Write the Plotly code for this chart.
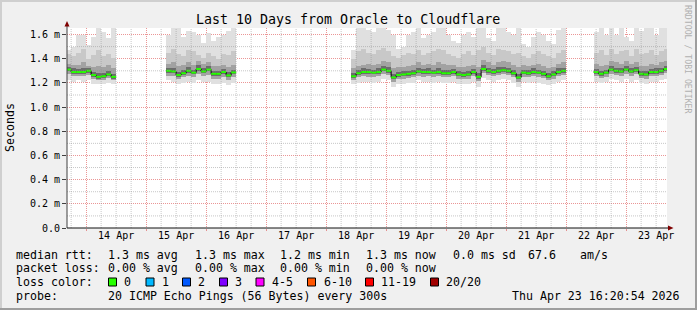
import plotly.graph_objects as go
import pandas as pd

# ---------------- data ----------------
seg_starts = ["2026-04-13 16:00", "2026-04-15 08:00", "2026-04-18 10:00", "2026-04-22 11:00"]
seg_counts = [10, 14, 43, 15]
bin_hours = 2

rtt_median = [
    1.31, 1.29, 1.29, 1.29, 1.30, 1.265, 1.25, 1.255, 1.27, 1.25,
    1.30, 1.295, 1.265, 1.28, 1.30, 1.285, 1.315, 1.295, 1.31, 1.275, 1.275, 1.29, 1.262, 1.287,
    1.255, 1.28, 1.29, 1.29, 1.285, 1.29, 1.31, 1.30, 1.245, 1.265, 1.27, 1.275, 1.28, 1.295, 1.29,
    1.29, 1.285, 1.29, 1.28, 1.28, 1.29, 1.27, 1.265, 1.27, 1.29, 1.25, 1.315, 1.30, 1.29, 1.30,
    1.305, 1.30, 1.28, 1.245, 1.285, 1.28, 1.29, 1.285, 1.275, 1.255, 1.27, 1.29, 1.30,
    1.29, 1.275, 1.285, 1.31, 1.30, 1.295, 1.31, 1.295, 1.305, 1.275, 1.27, 1.29, 1.29, 1.30, 1.315,
]
smoke_max = [
    1.47, 1.50, 1.60, 1.60, 1.51, 1.58, 1.66, 1.62, 1.57, 1.66,
    1.60, 1.66, 1.66, 1.58, 1.63, 1.62, 1.60, 1.53, 1.61, 1.55, 1.58, 1.60, 1.63, 1.66,
    1.47, 1.66, 1.66, 1.64, 1.62, 1.66, 1.66, 1.64, 1.60, 1.48, 1.50, 1.60, 1.62, 1.66, 1.57,
    1.60, 1.62, 1.66, 1.66, 1.60, 1.55, 1.53, 1.60, 1.62, 1.58, 1.66, 1.66, 1.57, 1.55, 1.66,
    1.66, 1.62, 1.60, 1.66, 1.52, 1.50, 1.58, 1.62, 1.60, 1.55, 1.52, 1.64, 1.66,
    1.62, 1.66, 1.60, 1.66, 1.60, 1.66, 1.58, 1.55, 1.66, 1.63, 1.66, 1.66, 1.60, 1.66, 1.66,
]
smoke_p90 = [
    1.44, 1.42, 1.45, 1.48, 1.40, 1.43, 1.47, 1.42, 1.44, 1.41,
    1.45, 1.48, 1.44, 1.42, 1.47, 1.46, 1.43, 1.41, 1.45, 1.42, 1.40, 1.44, 1.43, 1.46,
    1.40, 1.46, 1.48, 1.45, 1.44, 1.47, 1.49, 1.46, 1.42, 1.41, 1.43, 1.45, 1.44, 1.47, 1.43,
    1.45, 1.46, 1.48, 1.47, 1.44, 1.42, 1.41, 1.44, 1.46, 1.43, 1.47, 1.50, 1.45, 1.43, 1.48,
    1.47, 1.46, 1.44, 1.45, 1.42, 1.41, 1.44, 1.46, 1.44, 1.42, 1.41, 1.45, 1.47,
    1.45, 1.47, 1.43, 1.48, 1.44, 1.46, 1.47, 1.42, 1.48, 1.44, 1.45, 1.47, 1.43, 1.46, 1.48,
]
smoke_p75 = [
    1.36, 1.35, 1.35, 1.37, 1.34, 1.33, 1.34, 1.33, 1.35, 1.32,
    1.36, 1.37, 1.34, 1.35, 1.37, 1.35, 1.38, 1.36, 1.37, 1.34, 1.34, 1.35, 1.33, 1.35,
    1.32, 1.34, 1.35, 1.36, 1.35, 1.36, 1.38, 1.37, 1.32, 1.33, 1.33, 1.34, 1.35, 1.37, 1.35,
    1.36, 1.35, 1.37, 1.36, 1.35, 1.35, 1.33, 1.33, 1.34, 1.35, 1.33, 1.39, 1.37, 1.35, 1.37,
    1.38, 1.37, 1.35, 1.33, 1.35, 1.34, 1.35, 1.36, 1.34, 1.32, 1.33, 1.36, 1.37,
    1.36, 1.34, 1.35, 1.38, 1.37, 1.36, 1.38, 1.36, 1.37, 1.34, 1.34, 1.36, 1.35, 1.37, 1.38,
]
smoke_p60 = [
    1.335, 1.32, 1.315, 1.32, 1.325, 1.29, 1.28, 1.28, 1.30, 1.275,
    1.325, 1.325, 1.29, 1.305, 1.33, 1.31, 1.345, 1.32, 1.34, 1.30, 1.30, 1.315, 1.29, 1.31,
    1.28, 1.305, 1.32, 1.315, 1.31, 1.32, 1.34, 1.33, 1.275, 1.29, 1.295, 1.30, 1.31, 1.325, 1.315,
    1.32, 1.31, 1.32, 1.305, 1.31, 1.315, 1.295, 1.29, 1.30, 1.315, 1.28, 1.345, 1.325, 1.315, 1.33,
    1.335, 1.325, 1.305, 1.275, 1.31, 1.305, 1.32, 1.31, 1.30, 1.28, 1.295, 1.32, 1.325,
    1.315, 1.30, 1.31, 1.34, 1.325, 1.32, 1.34, 1.32, 1.33, 1.30, 1.295, 1.315, 1.32, 1.325, 1.34,
]
smoke_p40 = [
    1.295, 1.275, 1.275, 1.275, 1.285, 1.25, 1.235, 1.24, 1.255, 1.235,
    1.285, 1.28, 1.25, 1.265, 1.285, 1.27, 1.30, 1.28, 1.295, 1.26, 1.26, 1.275, 1.245, 1.272,
    1.24, 1.265, 1.275, 1.275, 1.27, 1.275, 1.295, 1.285, 1.23, 1.25, 1.255, 1.26, 1.265, 1.28, 1.275,
    1.275, 1.27, 1.275, 1.265, 1.265, 1.275, 1.255, 1.25, 1.255, 1.275, 1.235, 1.30, 1.285, 1.275, 1.285,
    1.29, 1.285, 1.265, 1.23, 1.27, 1.265, 1.275, 1.27, 1.26, 1.24, 1.255, 1.275, 1.285,
    1.275, 1.26, 1.27, 1.295, 1.285, 1.28, 1.295, 1.28, 1.29, 1.26, 1.255, 1.275, 1.275, 1.285, 1.30,
]
smoke_p25 = [
    1.27, 1.26, 1.26, 1.26, 1.265, 1.23, 1.22, 1.225, 1.24, 1.22,
    1.26, 1.255, 1.23, 1.245, 1.26, 1.25, 1.27, 1.255, 1.265, 1.235, 1.235, 1.25, 1.225, 1.245,
    1.22, 1.245, 1.255, 1.25, 1.25, 1.255, 1.275, 1.265, 1.21, 1.23, 1.235, 1.24, 1.245, 1.26, 1.25,
    1.255, 1.25, 1.255, 1.245, 1.245, 1.255, 1.235, 1.23, 1.235, 1.255, 1.215, 1.28, 1.265, 1.255, 1.265,
    1.27, 1.265, 1.245, 1.21, 1.25, 1.245, 1.255, 1.25, 1.24, 1.22, 1.235, 1.255, 1.265,
    1.255, 1.24, 1.25, 1.275, 1.265, 1.26, 1.275, 1.26, 1.27, 1.24, 1.235, 1.255, 1.255, 1.265, 1.28,
]
smoke_min = [
    1.22, 1.21, 1.22, 1.21, 1.22, 1.19, 1.19, 1.19, 1.20, 1.19,
    1.22, 1.21, 1.19, 1.20, 1.21, 1.20, 1.22, 1.21, 1.21, 1.19, 1.19, 1.20, 1.18, 1.20,
    1.19, 1.20, 1.21, 1.21, 1.20, 1.21, 1.23, 1.22, 1.17, 1.19, 1.19, 1.20, 1.20, 1.22, 1.21,
    1.21, 1.20, 1.21, 1.20, 1.20, 1.21, 1.19, 1.19, 1.19, 1.21, 1.17, 1.24, 1.22, 1.21, 1.22,
    1.23, 1.22, 1.20, 1.17, 1.21, 1.20, 1.21, 1.20, 1.19, 1.18, 1.19, 1.21, 1.22,
    1.21, 1.20, 1.21, 1.23, 1.22, 1.21, 1.23, 1.21, 1.22, 1.20, 1.19, 1.21, 1.21, 1.22, 1.23,
]

y_tick_vals = [0.0, 0.2, 0.4, 0.6, 0.8, 1.0, 1.2, 1.4, 1.6]
y_tick_text = ["0.0", "0.2 m", "0.4 m", "0.6 m", "0.8 m", "1.0 m", "1.2 m", "1.4 m", "1.6 m"]
y_minor_vals = [0.1, 0.3, 0.5, 0.7, 0.9, 1.1, 1.3, 1.5]
day_dates = pd.date_range("2026-04-14", "2026-04-23", freq="D")
day_labels = ["14 Apr", "15 Apr", "16 Apr", "17 Apr", "18 Apr", "19 Apr", "20 Apr", "21 Apr", "22 Apr", "23 Apr"]
x_start = "2026-04-13 16:20:54"
x_end = "2026-04-23 16:20:54"

title = "Last 10 Days from Oracle to Cloudflare"
loss_labels = ["0", "1", "2", "3", "4-5", "6-10", "11-19", "20/20"]
loss_colors = ["#26ff00", "#00b8ff", "#0059ff", "#7e00ff", "#ff00ff", "#ff5500", "#ff0000", "#a10000"]
stats_rtt = ["1.3 ms avg", "1.3 ms max", "1.2 ms min", "1.3 ms now", "0.0 ms sd", "67.6", "am/s"]
stats_loss = ["0.00 % avg", "0.00 % max", "0.00 % min", "0.00 % now"]
probe_text = "20 ICMP Echo Pings (56 Bytes) every 300s"
stamp_text = "Thu Apr 23 16:20:54 2026"

# ---------------- geometry helpers (layout decoration only) ----------------
W, H = 697, 310
L, R, T, B = 67, 30, 28, 82
PW, PH = W - L - R, H - T - B
def px(x):
    return (x - L) / PW
def py(y):
    return (H - B - y) / PH

MONO = "DejaVu Sans Mono"

# ---------------- build per-bin times ----------------
times = []
seg_index = []
for si, (s, n) in enumerate(zip(seg_starts, seg_counts)):
    for t in pd.date_range(s, periods=n, freq=f"{bin_hours}h"):
        times.append(t)
        seg_index.append(si)
bin_ms = bin_hours * 3600 * 1000
step = pd.Timedelta(hours=bin_hours)

fig = go.Figure()

layers = [
    (smoke_min, smoke_max, "#e0e0e0"),
    (smoke_p25, smoke_p90, "#c8c8c8"),
    (smoke_p25, smoke_p75, "#a2a2a2"),
    (smoke_p40, smoke_p60, "#6c6c6c"),
]
for lo, hi, col in layers:
    fig.add_trace(go.Bar(
        x=times, y=[h - l for h, l in zip(hi, lo)], base=lo,
        width=bin_ms, offset=0, marker=dict(color=col, line=dict(width=0)),
        hoverinfo="skip", showlegend=False,
    ))

# median: black connectors + green steps (on overlay x2, which carries the midnight grid)
for si in range(len(seg_starts)):
    idx = [i for i, s in enumerate(seg_index) if s == si]
    xs = [times[i] for i in idx] + [times[idx[-1]] + step]
    ys = [rtt_median[i] for i in idx] + [rtt_median[idx[-1]]]
    fig.add_trace(go.Scatter(x=xs, y=ys, mode="lines", line=dict(color="#000000", width=1, shape="hv"),
                             xaxis="x2", hoverinfo="skip", showlegend=False))
gx, gy = [], []
for t, v in zip(times, rtt_median):
    gx += [t, t + step, None]
    gy += [v, v, None]
fig.add_trace(go.Scatter(x=gx, y=gy, mode="lines", line=dict(color=loss_colors[0], width=2),
                         xaxis="x2", hoverinfo="skip", showlegend=False))

GRID = "rgba(143,143,143,0.5)"
MGRID = "rgba(222,80,80,0.6)"
DASH = "1px,1px"

fig.update_layout(
    width=W, height=H,
    margin=dict(l=L, r=R, t=T, b=B, pad=0),
    paper_bgcolor="#f0f0f0", plot_bgcolor="#ffffff",
    barmode="overlay", bargap=0,
    showlegend=False,
    font=dict(family=MONO, size=10, color="#000000"),
    xaxis=dict(
        type="date", range=[x_start, x_end],
        tickvals=[d + pd.Timedelta(hours=12) for d in day_dates], ticktext=day_labels,
        showgrid=False, ticks="", zeroline=False, showline=False,
        tickfont=dict(family=MONO, size=10, color="#000000"),
    ),
    yaxis=dict(
        range=[0, 1.654], tickvals=y_tick_vals, ticktext=y_tick_text,
        showgrid=True, gridcolor=MGRID, griddash=DASH, gridwidth=1,
        ticks="outside", ticklen=4, tickcolor="#404040",
        zeroline=False, showline=False,
        tickfont=dict(family=MONO, size=10, color="#000000"),
    ),
    xaxis2=dict(
        type="date", overlaying="x", matches="x", anchor="y", side="bottom",
        tickvals=list(day_dates), showticklabels=False,
        showgrid=True, gridcolor=MGRID, griddash=DASH, gridwidth=1,
        ticks="outside", ticklen=2, tickcolor=MGRID, zeroline=False, showline=False,
    ),
)

shapes = []
# minor grid (6 h / 0.1 ms), drawn over the data as rrdtool does
x_minor = [t for t in pd.date_range("2026-04-13 18:00", "2026-04-23 12:00", freq="6h") if t.hour != 0]
for t in x_minor:
    shapes.append(dict(type="line", xref="x", yref="paper", x0=t, x1=t, y0=0, y1=1,
                       line=dict(color=GRID, width=1, dash=DASH), layer="above"))
for v in y_minor_vals:
    shapes.append(dict(type="line", xref="paper", yref="y", x0=0, x1=1, y0=v, y1=v,
                       line=dict(color=GRID, width=1, dash=DASH), layer="above"))
# canvas frame
shapes.append(dict(type="rect", xref="paper", yref="paper", x0=px(0), x1=px(W), y0=py(0), y1=py(2),
                   fillcolor="#cfcfcf", line=dict(width=0), layer="below"))
shapes.append(dict(type="rect", xref="paper", yref="paper", x0=px(0), x1=px(2), y0=py(0), y1=py(H),
                   fillcolor="#cfcfcf", line=dict(width=0), layer="below"))
shapes.append(dict(type="rect", xref="paper", yref="paper", x0=px(W - 2), x1=px(W), y0=py(0), y1=py(H),
                   fillcolor="#9e9e9e", line=dict(width=0), layer="below"))
shapes.append(dict(type="rect", xref="paper", yref="paper", x0=px(0), x1=px(W), y0=py(H - 2), y1=py(H),
                   fillcolor="#9e9e9e", line=dict(width=0), layer="below"))
# axes with arrows
shapes.append(dict(type="line", xref="paper", yref="paper", x0=0, x1=0, y0=0, y1=py(24),
                   line=dict(color="#404040", width=1)))
shapes.append(dict(type="line", xref="paper", yref="paper", x0=0, x1=px(669), y0=0, y1=0,
                   line=dict(color="#101010", width=1)))
shapes.append(dict(type="path", xref="paper", yref="paper",
                   path=f"M {px(64.5)} {py(26.5)} L {px(69.5)} {py(26.5)} L {px(67)} {py(21)} Z",
                   fillcolor="#7f0000", line=dict(width=0)))
shapes.append(dict(type="path", xref="paper", yref="paper",
                   path=f"M {px(668)} {py(225.5)} L {px(668)} {py(230.5)} L {px(673.5)} {py(228)} Z",
                   fillcolor="#7f0000", line=dict(width=0)))
# loss colour boxes
box_x = [108.5, 146, 182.5, 219.5, 256, 307.5, 365.5, 430.5]
lab_x = [123, 161, 197, 234, 271, 322.5, 380, 445]
for bx, col in zip(box_x, loss_colors):
    shapes.append(dict(type="rect", xref="paper", yref="paper", x0=px(bx), x1=px(bx + 8),
                       y0=py(286), y1=py(278), fillcolor=col, line=dict(color="#000000", width=1)))
fig.update_layout(shapes=shapes)

LEG = 11.6
def txt(x, y, s, size=LEG, anchor="left", color="#000000", angle=0, yanchor="middle"):
    fig.add_annotation(xref="paper", yref="paper", x=px(x), y=py(y), text=s, showarrow=False,
                       xanchor=anchor, yanchor=yanchor, textangle=angle,
                       font=dict(family=MONO, size=size, color=color), borderpad=0)

txt(348, 19, title, size=13.3, anchor="center")
txt(10, 128, "Seconds", angle=-90, anchor="center")
txt(688, 59, "RRDTOOL / TOBI OETIKER", size=8.2, anchor="center", color="#b0b0b0", angle=90)

y1, y2, y3, y4 = 254.5, 268, 282.3, 296
txt(15, y1, "median rtt:")
for x, s in zip([107, 193.5, 279, 365, 451.5, 526.5, 579], stats_rtt):
    txt(x, y1, s)
txt(15, y2, "packet loss:")
for x, s in zip([107, 193.5, 279, 365], stats_loss):
    txt(x, y2, s)
txt(15, y3, "loss color:")
for x, s in zip(lab_x, loss_labels):
    txt(x, y3, s)
txt(15, y4, "probe:")
txt(107, y4, probe_text)
txt(681, y4, stamp_text, anchor="right")

fig.write_html("out.html")
